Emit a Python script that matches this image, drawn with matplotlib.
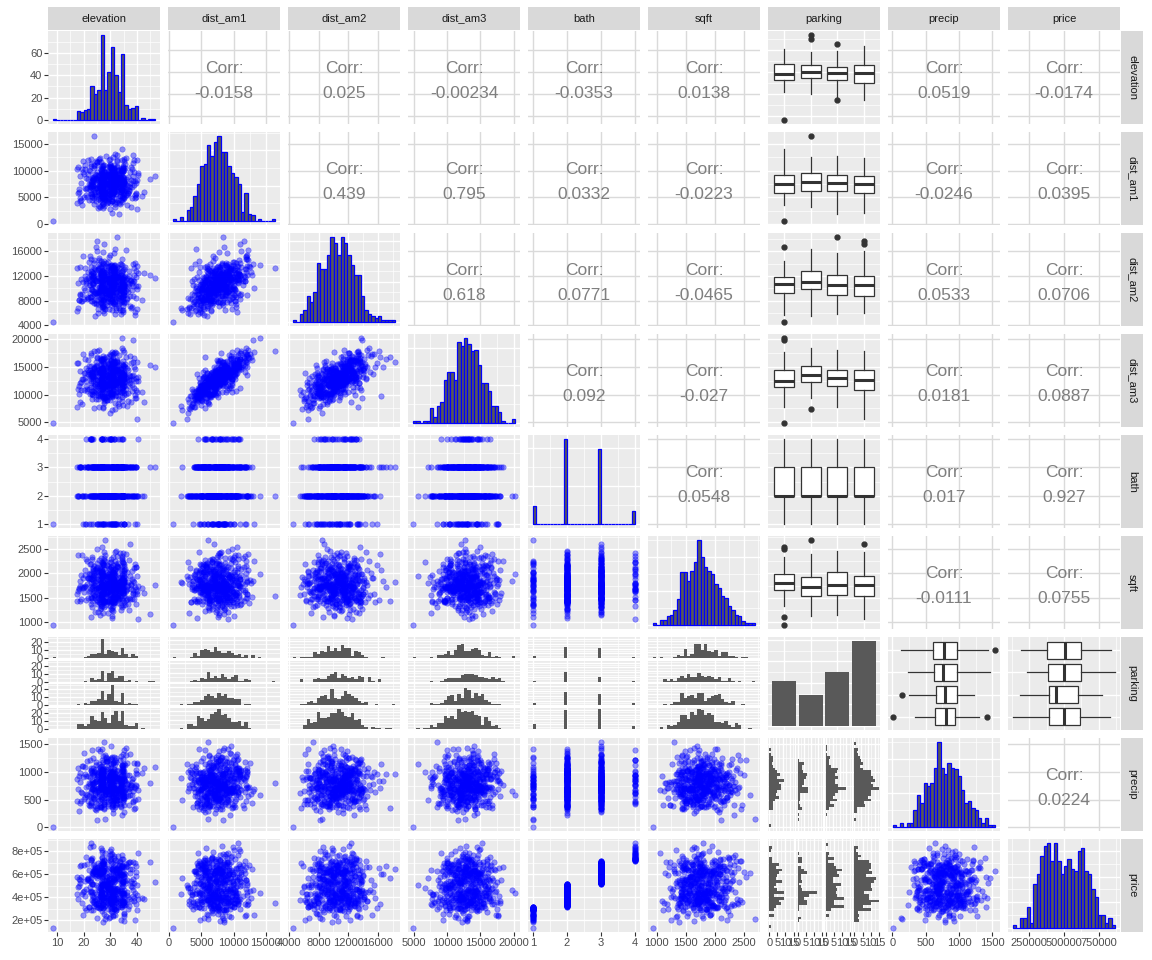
import matplotlib.pyplot as plt
import numpy as np

plt.rcParams['font.family'] = ['Liberation Sans', 'DejaVu Sans']

# ---- values ----
n_rows = 500
names = ["elevation", "dist_am1", "dist_am2", "dist_am3", "bath",
         "sqft", "parking", "precip", "price"]

# 30-bin histogram counts, plus min / max of the column
elevation_counts = [1, 0, 0, 0, 0, 0, 0, 8, 7, 9, 10, 30, 23, 27, 76,
                    27, 43, 65, 40, 25, 59, 13, 10, 11, 12, 0, 2, 0, 1, 1]
elevation_range = [8.5, 46.7]
dist_am1_counts = [1, 0, 2, 0, 6, 8, 14, 21, 31, 32, 43, 37, 45, 48, 39,
                   39, 31, 27, 25, 21, 5, 16, 4, 3, 0, 1, 0, 0, 0, 1]
dist_am1_range = [610, 16410]
dist_am2_counts = [1, 0, 4, 6, 13, 10, 15, 29, 26, 26, 33, 42, 39, 33, 42,
                   39, 33, 28, 23, 23, 13, 6, 4, 3, 2, 3, 1, 1, 1, 1]
dist_am2_range = [4550, 18300]
dist_am3_counts = [1, 1, 0, 1, 1, 8, 3, 9, 11, 23, 27, 27, 23, 43, 41,
                   45, 42, 38, 39, 31, 21, 21, 17, 9, 9, 6, 1, 0, 0, 2]
dist_am3_range = [4900, 20200]
sqft_counts = [1, 0, 3, 3, 5, 6, 9, 15, 31, 31, 26, 32, 37, 50, 40,
               34, 32, 30, 24, 22, 17, 16, 11, 9, 6, 5, 2, 1, 1, 1]
sqft_range = [935, 2690]
precip_counts = [1, 0, 2, 0, 2, 2, 10, 19, 14, 26, 24, 26, 35, 50, 35,
                 31, 38, 35, 34, 30, 22, 14, 15, 11, 10, 5, 2, 5, 1, 1]
precip_range = [10, 1540]
price_counts = [1, 0, 4, 4, 8, 2, 17, 21, 28, 32, 33, 26, 33, 26, 21,
                24, 27, 23, 22, 30, 31, 22, 21, 15, 12, 5, 5, 2, 4, 1]
price_range = [133000, 868000]

bath_levels = [1, 2, 3, 4]
bath_counts = [46, 224, 197, 33]
parking_levels = [1, 2, 3, 4]
parking_counts = [105, 72, 126, 197]

# printed correlations, upper triangle row by row (parking column skipped)
corr_elevation = ["-0.0158", "0.025", "-0.00234", "-0.0353", "0.0138", "0.0519", "-0.0174"]
corr_dist_am1 = ["0.439", "0.795", "0.0332", "-0.0223", "-0.0246", "0.0395"]
corr_dist_am2 = ["0.618", "0.0771", "-0.0465", "0.0533", "0.0706"]
corr_dist_am3 = ["0.092", "-0.027", "0.0181", "0.0887"]
corr_bath = ["0.0548", "0.017", "0.927"]
corr_sqft = ["-0.0111", "0.0755"]
corr_precip = ["0.0224"]

elevation_ticks = [10, 20, 30, 40]
dist_am1_ticks = [0, 5000, 10000, 15000]
dist_am2_ticks = [4000, 8000, 12000, 16000]
dist_am3_ticks = [5000, 10000, 15000, 20000]
bath_ticks = [1, 2, 3, 4]
sqft_ticks = [1000, 1500, 2000, 2500]
precip_ticks = [0, 500, 1000, 1500]
price_ticks_x = [250000, 500000, 750000]
price_ticks_y = [200000, 400000, 600000, 800000]
price_labels_y = ["2e+05", "4e+05", "6e+05", "8e+05"]


def spread(counts, rng):
    # put each bin's points evenly inside the bin, ends pinned to min / max
    edges = np.linspace(rng[0], rng[1], len(counts) + 1)
    out = []
    for i, c in enumerate(counts):
        if c:
            out.extend(edges[i] + (np.arange(c) + 0.5) / c * (edges[i + 1] - edges[i]))
    out = np.sort(np.array(out))
    out[0], out[-1] = rng[0], rng[1]
    return out


# the row pairing can not be read off the picture, so rows are lined up by a fixed scramble
k = np.arange(n_rows, dtype=float)


def fixed_scramble(p, q):
    key = np.mod(k * k * np.sqrt(p) + k * np.sqrt(q), 1.0)
    return (np.argsort(np.argsort(key)) + 0.5) / n_rows


def to_normal(u):
    return 0.5513 * np.log(u / (1 - u))


def place(sorted_vals, score):
    return sorted_vals[np.argsort(np.argsort(score))]


data = {}
data["elevation"] = place(spread(elevation_counts, elevation_range), fixed_scramble(2, 3))
z1 = to_normal(fixed_scramble(5, 7))
e2 = to_normal(fixed_scramble(11, 13))
e3 = to_normal(fixed_scramble(17, 19))
r12, r13, r23 = float(corr_dist_am1[0]), float(corr_dist_am1[1]), float(corr_dist_am2[0])
z3 = r13 * z1 + np.sqrt(1 - r13 ** 2) * e3
c3 = (r23 - r12 * r13) / (1 - r13 ** 2)
c1 = r12 - c3 * r13
z2 = c1 * z1 + c3 * z3 + np.sqrt(1 - (c1 ** 2 + c3 ** 2 + 2 * c1 * c3 * r13)) * e2
data["dist_am1"] = place(spread(dist_am1_counts, dist_am1_range), z1)
data["dist_am2"] = place(spread(dist_am2_counts, dist_am2_range), z2)
data["dist_am3"] = place(spread(dist_am3_counts, dist_am3_range), z3)
data["bath"] = place(np.repeat(bath_levels, bath_counts).astype(float), fixed_scramble(23, 29))
data["sqft"] = place(spread(sqft_counts, sqft_range), fixed_scramble(31, 37))
data["parking"] = place(np.repeat(parking_levels, parking_counts), fixed_scramble(67, 71))
data["precip"] = place(spread(precip_counts, precip_range), fixed_scramble(47, 53))
data["price"] = place(spread(price_counts, price_range),
                      data["bath"] + 0.9 * fixed_scramble(59, 61))

corr_lists = [corr_elevation, corr_dist_am1, corr_dist_am2, corr_dist_am3,
              corr_bath, corr_sqft, None, corr_precip]
x_ticks = {"elevation": elevation_ticks, "dist_am1": dist_am1_ticks, "dist_am2": dist_am2_ticks,
           "dist_am3": dist_am3_ticks, "bath": bath_ticks, "sqft": sqft_ticks,
           "precip": precip_ticks, "price": price_ticks_x}
y_ticks = dict(x_ticks, price=price_ticks_y)

# ---- drawing ----
W, H = 1152, 960
fig = plt.figure(figsize=(W / 100, H / 100), dpi=100)
GRAY_BG = "#EBEBEB"
BAR = "#595959"
LINE = "#333333"
TXT = "#4D4D4D"
GAP = 1.6


def px_axes(left, top, w, h):
    return fig.add_axes([left / W, (H - top - h) / H, w / W, h / H])


def cell_px(r, c):
    return 48 + 120 * c, 31 + 101 * r, 112, 93


def lims(v):
    if v == "parking":
        return (0.4, 4.6)
    lo, hi = data[v].min(), data[v].max()
    p = 0.05 * (hi - lo)
    return (lo - p, hi + p)


def mids(t):
    step = t[1] - t[0]
    return [t[0] - step / 2] + [a + step / 2 for a in t]


def count_ticks(m):
    for step in [5, 10, 20, 25, 50, 100]:
        if m / step <= 4.2:
            break
    return list(np.arange(0, m * 1.1 + step, step))


def hist_counts(values, v, nb=30):
    lo, hi = data[v].min(), data[v].max()
    edges = np.linspace(lo, hi, nb + 1)
    idx = np.searchsorted(edges, values - 1e-9 * (hi - lo), side="left") - 1
    idx = np.clip(idx, 0, nb - 1)
    return np.bincount(idx, minlength=nb), edges


def dress(ax, xlim, ylim, xt, yt, xminor=True, yminor=True, bg=GRAY_BG, gc="white"):
    ax.set_facecolor(bg)
    ax.set_xticks(xt)
    ax.set_yticks(yt)
    if xminor:
        ax.set_xticks(mids(xt), minor=True)
    if yminor:
        ax.set_yticks(mids(yt), minor=True)
    # limits after the ticks, otherwise set_ticks widens the view
    ax.set_xlim(xlim)
    ax.set_ylim(ylim)
    ax.grid(which="major", color=gc, lw=1.0)
    ax.grid(which="minor", color=gc, lw=0.5)
    ax.set_axisbelow(True)
    for s in ax.spines.values():
        s.set_visible(False)
    ax.tick_params(which="both", length=0, labelbottom=False, labelleft=False)


def label_axis(ax, which, ticks, labels):
    xl, yl = ax.get_xlim(), ax.get_ylim()
    if which == "x":
        ax.set_xticks(ticks)
        ax.set_xticklabels(labels)
        ax.tick_params(axis="x", which="major", length=3, width=0.8, color=LINE,
                       labelbottom=True, labelsize=8, labelcolor=TXT, pad=1)
    else:
        ax.set_yticks(ticks)
        ax.set_yticklabels(labels)
        ax.tick_params(axis="y", which="major", length=3, width=0.8, color=LINE,
                       labelleft=True, labelsize=8, labelcolor=TXT, pad=1)
    ax.set_xlim(xl)
    ax.set_ylim(yl)


def tick_text(v, ticks):
    if v == "price" and ticks == price_ticks_y:
        return price_labels_y
    return [str(int(t)) for t in ticks]


box_kw = dict(widths=0.75, patch_artist=True, showcaps=False, manage_ticks=False,
              boxprops=dict(facecolor="white", edgecolor=LINE, lw=0.9),
              medianprops=dict(color=LINE, lw=2.2),
              whiskerprops=dict(color=LINE, lw=0.9),
              flierprops=dict(marker="o", markerfacecolor=LINE, markeredgecolor=LINE,
                              markersize=3.5))

by_park = [data["parking"] == lv for lv in parking_levels]

for r, rv in enumerate(names):
    for c, cv in enumerate(names):
        left, top, w, h = cell_px(r, c)
        first_col, last_row = c == 0, r == len(names) - 1

        if r == c and cv == "parking":
            ax = px_axes(left, top, w, h)
            m = max(parking_counts)
            ct = count_ticks(m)
            dress(ax, lims(cv), (-0.05 * m, 1.05 * m), parking_levels, ct, xminor=False)
            ax.bar(parking_levels, parking_counts, width=0.9, color=BAR)

        elif r == c:
            ax = px_axes(left, top, w, h)
            counts, edges = hist_counts(data[cv], cv)
            m = counts.max()
            ct = count_ticks(m)
            dress(ax, lims(cv), (-0.05 * m, 1.05 * m), x_ticks[cv], ct)
            ax.bar(edges[:-1], counts, width=np.diff(edges), align="edge",
                   color=BAR, edgecolor="blue", lw=0.9)
            if first_col:
                label_axis(ax, "y", ct, [str(int(t)) for t in ct])
            if last_row:
                label_axis(ax, "x", x_ticks[cv], tick_text(cv, x_ticks[cv]))

        elif r < c and cv == "parking":
            ax = px_axes(left, top, w, h)
            dress(ax, lims(cv), lims(rv), parking_levels, y_ticks[rv], xminor=False)
            ax.boxplot([data[rv][g] for g in by_park], positions=parking_levels,
                       orientation="vertical", **box_kw)
            ax.set_xlim(lims(cv))
            ax.set_ylim(lims(rv))

        elif r < c and rv == "parking":
            ax = px_axes(left, top, w, h)
            dress(ax, lims(cv), lims(rv), x_ticks[cv], parking_levels, yminor=False)
            ax.boxplot([data[cv][g] for g in by_park], positions=parking_levels,
                       orientation="horizontal", **box_kw)
            ax.set_xlim(lims(cv))
            ax.set_ylim(lims(rv))

        elif r < c:
            ax = px_axes(left, top, w, h)
            dress(ax, lims(cv), lims(rv), x_ticks[cv], y_ticks[rv], xminor=False,
                  yminor=False, bg="white", gc="#DADADA")
            col_idx = c - r - 1 - (1 if c > 6 and r < 6 else 0)
            ax.text(0.5, 0.6, "Corr:", transform=ax.transAxes, ha="center", va="center",
                    fontsize=12.5, color="#7F7F7F")
            ax.text(0.5, 0.33, corr_lists[r][col_idx], transform=ax.transAxes,
                    ha="center", va="center", fontsize=12.5, color="#7F7F7F")

        elif rv == "parking":
            # one histogram per parking level, stacked top to bottom
            fh = (h - 3 * GAP) / 4
            sets = [hist_counts(data[cv][g], cv) for g in by_park]
            m = max(s[0].max() for s in sets)
            ct = count_ticks(m)
            for j, (counts, edges) in enumerate(sets):
                ax = px_axes(left, top + j * (fh + GAP), w, fh)
                dress(ax, lims(cv), (-0.05 * m, 1.05 * m), x_ticks[cv], ct)
                ax.bar(edges[:-1], counts, width=np.diff(edges), align="edge", color=BAR)
                if first_col:
                    label_axis(ax, "y", ct, [str(int(t)) for t in ct])

        elif cv == "parking":
            # one sideways histogram per parking level, left to right
            fw = (w - 3 * GAP) / 4
            sets = [hist_counts(data[rv][g], rv) for g in by_park]
            m = max(s[0].max() for s in sets)
            ct = count_ticks(m)
            for j, (counts, edges) in enumerate(sets):
                ax = px_axes(left + j * (fw + GAP), top, fw, h)
                dress(ax, (-0.05 * m, 1.05 * m), lims(rv), ct, y_ticks[rv])
                ax.barh(edges[:-1], counts, height=np.diff(edges), align="edge", color=BAR)
                if last_row:
                    label_axis(ax, "x", ct, [str(int(t)) for t in ct])

        else:
            ax = px_axes(left, top, w, h)
            dress(ax, lims(cv), lims(rv), x_ticks[cv], y_ticks[rv])
            ax.scatter(data[cv], data[rv], s=15, color="blue", alpha=0.4,
                       edgecolors="blue", linewidths=0.5)
            if first_col:
                label_axis(ax, "y", y_ticks[rv], tick_text(rv, y_ticks[rv]))
            if last_row:
                label_axis(ax, "x", x_ticks[cv], tick_text(cv, x_ticks[cv]))

# strips
for i, v in enumerate(names):
    sx = px_axes(48 + 120 * i, 7, 112, 23)
    sy = px_axes(1121, 31 + 101 * i, 22, 93)
    for s, rot in [(sx, 0), (sy, 270)]:
        s.set_facecolor("#D9D9D9")
        s.set_xticks([])
        s.set_yticks([])
        for sp in s.spines.values():
            sp.set_visible(False)
        s.text(0.5, 0.5, v, transform=s.transAxes, ha="center", va="center",
               rotation=rot, fontsize=8, color="#1A1A1A")

fig.savefig("out.png", dpi=100, facecolor="white")
